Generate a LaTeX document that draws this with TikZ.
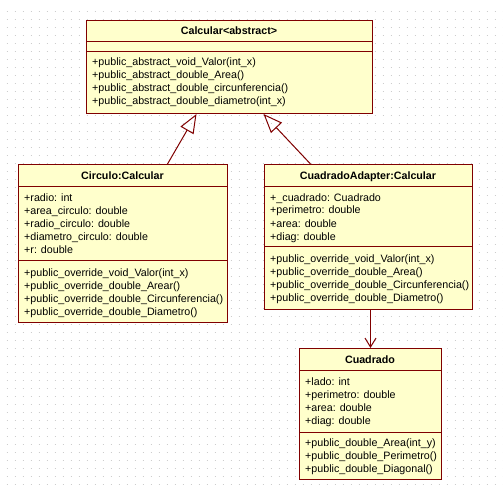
\documentclass[tikz,border=0pt]{standalone}
\usepackage{fontspec}
\setmainfont{Liberation Sans}
\usetikzlibrary{arrows.meta}
\definecolor{umlborder}{RGB}{128,0,0}
\definecolor{umlfill}{RGB}{255,255,204}
\definecolor{griddot}{RGB}{205,205,205}
\begin{document}
\begin{tikzpicture}[x=1pt,y=-1pt,
 classbox/.style={draw=umlborder, fill=umlfill, line width=1pt, anchor=north west, inner sep=0pt},
 title/.style={font=\bfseries\fontsize{10.7}{13}\selectfont, inner sep=0pt, anchor=base},
 members/.style={font=\fontsize{10.7}{13}\selectfont, align=left, inner sep=0pt, anchor=base west},
 sep/.style={draw=umlborder, line width=1pt},
 inherit/.style={draw=umlborder, line width=1pt, -{Triangle[open,length=19pt,width=15pt]}},
 assoc/.style={draw=umlborder, line width=1pt, -{Straight Barb[length=9pt,width=11pt]}}]
\useasboundingbox (0,0) rectangle (503,489);
\fill[white] (0,0) rectangle (503,489);
\foreach \y in {12,20,...,484}
  \draw[griddot, line width=1pt, dash pattern=on 1pt off 7pt] (6.5,\y) -- (503,\y);

% Calcular (base anchor = baseline of the last line)
\node[classbox, minimum width=286pt, minimum height=93pt] (calc) at (86,20) {};
\draw[sep] (86,42) -- (372,42);
\draw[sep] (86,52) -- (372,52);
\node[title] (calcT) at (229,35) {Calcular<abstract>};
\node[members] (calcM) at (92,105) {+public\_abstract\_void\_Valor(int\_x)\\
+public\_abstract\_double\_Area()\\
+public\_abstract\_double\_circunferencia()\\
+public\_abstract\_double\_diametro(int\_x)};

% Circulo
\node[classbox, minimum width=209pt, minimum height=158pt] (circ) at (18,164) {};
\draw[sep] (18,187) -- (227,187);
\draw[sep] (18,260) -- (227,260);
\node[title] (circT) at (122.5,179.5) {Circulo:Calcular};
\node[members] (circA) at (24,253) {+radio: int\\
+area\_circulo: double\\
+radio\_circulo: double\\
+diametro\_circulo: double\\
+r: double};
\node[members] (circM) at (24,315) {+public\_override\_void\_Valor(int\_x)\\
+public\_override\_double\_Arear()\\
+public\_override\_double\_Circunferencia()\\
+public\_override\_double\_Diametro()};

% CuadradoAdapter
\node[classbox, minimum width=208pt, minimum height=145pt] (adapt) at (264,164) {};
\draw[sep] (264,187) -- (472,187);
\draw[sep] (264,246) -- (472,246);
\node[title] (adaptT) at (368,179.5) {CuadradoAdapter:Calcular};
\node[members] (adaptA) at (270,240) {+\_cuadrado: Cuadrado\\
+perimetro: double\\
+area: double\\
+diag: double};
\node[members] (adaptM) at (270,301) {+public\_override\_void\_Valor(int\_x)\\
+public\_override\_double\_Area()\\
+public\_override\_double\_Circunferencia()\\
+public\_override\_double\_Diametro()};

% Cuadrado
\node[classbox, minimum width=142pt, minimum height=131pt] (cuad) at (299,348) {};
\draw[sep] (299,370) -- (441,370);
\draw[sep] (299,432) -- (441,432);
\node[title] (cuadT) at (370,363) {Cuadrado};
\node[members] (cuadA) at (305,424) {+lado: int\\
+perimetro: double\\
+area: double\\
+diag: double};
\node[members] (cuadM) at (305,472) {+public\_double\_Area(int\_y)\\
+public\_double\_Perimetro()\\
+public\_double\_Diagonal()};

% connectors
\draw[inherit] ([xshift=44.5pt]circ.north) -- ([xshift=-33pt]calc.south);
\draw[inherit] ([xshift=-58pt]adapt.north) -- ([xshift=34pt]calc.south);
\draw[assoc] ([xshift=2pt]adapt.south) -- (cuad.north);
\end{tikzpicture}
\end{document}
